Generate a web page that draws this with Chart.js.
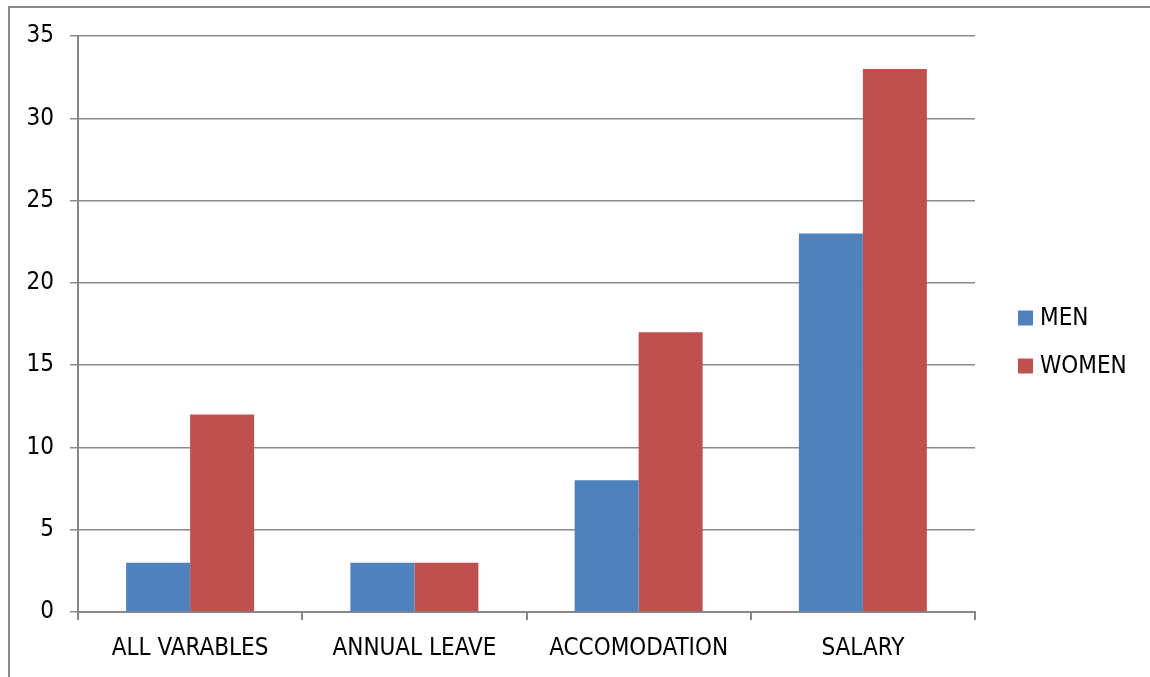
<!DOCTYPE html>
<html>
<head>
<meta charset="utf-8">
<script src="https://cdn.jsdelivr.net/npm/chart.js@4.4.1/dist/chart.umd.min.js"></script>
<style>
  html, body { margin: 0; padding: 0; background: #ffffff; }
  #wrap { position: relative; width: 1150px; height: 677px; }
  canvas { display: block; }
</style>
</head>
<body>
<div id="wrap"><canvas id="c" width="1150" height="677"></canvas></div>
<script>
const categories = ["ALL VARABLES", "ANNUAL LEAVE", "ACCOMODATION", "SALARY"];
const menValues = [3, 3, 8, 23];
const womenValues = [12, 3, 17, 33];
const seriesNames = ["MEN", "WOMEN"];
const seriesColors = ["#4F81BD", "#C0504D"];
const yTickMin = 0, yTickMax = 35, yTickStep = 5;

const FONT = '"Liberation Sans Narrow", "Arial Narrow", "DejaVu Sans Condensed", "Liberation Sans", sans-serif';
const FSIZE = 24;

const framePlugin = {
  id: 'frame',
  beforeDraw(chart) {
    const ctx = chart.ctx;
    ctx.save();
    ctx.strokeStyle = '#8a8a8a';
    ctx.lineWidth = 2;
    ctx.beginPath();
    ctx.moveTo(9, 677);
    ctx.lineTo(9, 7);
    ctx.lineTo(1150, 7);
    ctx.stroke();
    ctx.restore();
  }
};

const legendPlugin = {
  id: 'sideLegend',
  afterDraw(chart) {
    const ctx = chart.ctx;
    const area = chart.chartArea;
    ctx.save();
    ctx.font = FSIZE + 'px ' + FONT;
    ctx.textBaseline = 'middle';
    ctx.textAlign = 'left';
    const x0 = area.right + 43;
    const gap = 48;
    chart.data.datasets.forEach((ds, i) => {
      const y = area.top + 282 + i * gap;
      ctx.fillStyle = ds.backgroundColor;
      ctx.fillRect(x0, y - 7.5, 15, 15);
      ctx.fillStyle = '#000000';
      ctx.fillText(ds.label, x0 + 22, y + 1);
    });
    ctx.restore();
  }
};

new Chart(document.getElementById('c'), {
  type: 'bar',
  data: {
    labels: categories,
    datasets: [
      { label: seriesNames[0], data: menValues, backgroundColor: seriesColors[0], borderWidth: 0 },
      { label: seriesNames[1], data: womenValues, backgroundColor: seriesColors[1], borderWidth: 0 }
    ]
  },
  options: {
    responsive: false,
    animation: false,
    devicePixelRatio: 1,
    layout: { padding: { top: 36, right: 175, left: 0, bottom: 0 } },
    plugins: { legend: { display: false }, tooltip: { enabled: false } },
    datasets: { bar: { categoryPercentage: 128 / 224.25, barPercentage: 1.0 } },
    scales: {
      x: {
        offset: true,
        afterFit(scale) { scale.height = 65; },
        grid: { offset: true, drawOnChartArea: false, drawTicks: true, tickLength: 8, color: '#868686', lineWidth: 2 },
        border: { display: true, color: '#868686', width: 2 },
        ticks: { color: '#000000', padding: 14, maxRotation: 0, autoSkip: false, font: { size: FSIZE, family: FONT } }
      },
      y: {
        min: yTickMin,
        max: yTickMax,
        afterFit(scale) { scale.width = 78; },
        grid: { color: '#8a8a8a', lineWidth: 1.5, tickLength: 8, drawTicks: true },
        border: { display: true, color: '#868686', width: 2 },
        ticks: { stepSize: yTickStep, color: '#000000', padding: 16, font: { size: FSIZE, family: FONT } }
      }
    }
  },
  plugins: [framePlugin, legendPlugin]
});
</script>
</body>
</html>
